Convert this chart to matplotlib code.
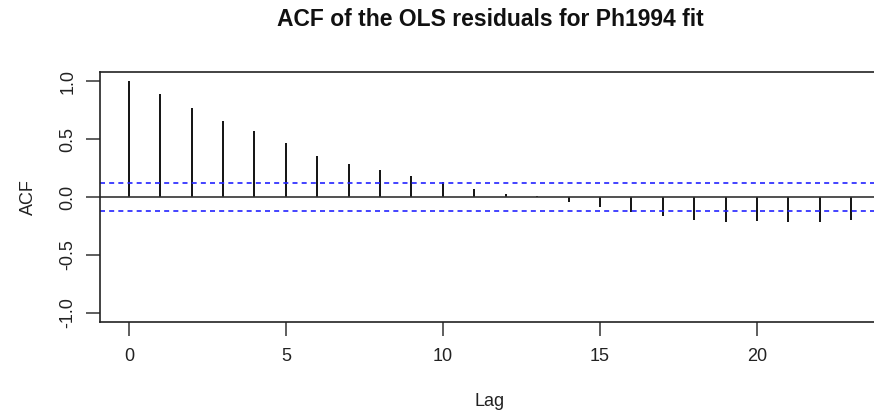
import matplotlib
matplotlib.use("Agg")
import matplotlib.pyplot as plt
import numpy as np

lags = list(range(0, 24))
acf_values = [1.0, 0.894, 0.765, 0.654, 0.568, 0.468, 0.358, 0.281, 0.235, 0.181,
              0.128, 0.065, 0.025, 0.005, -0.04, -0.085, -0.13, -0.168, -0.20,
              -0.217, -0.21, -0.215, -0.215, -0.20]
conf_bound = 0.124
x_ticks = [0, 5, 10, 15, 20]
y_ticks = [-1.0, -0.5, 0.0, 0.5, 1.0]

plt.rcParams['font.family'] = ['Liberation Sans', 'DejaVu Sans']

W, H = 874, 415
fig = plt.figure(figsize=(W / 100, H / 100), dpi=100)
left, right, top, bottom = 100, 880, 72, 322
ax = fig.add_axes([left / W, 1 - bottom / H, (right - left) / W, (bottom - top) / H])

ax.vlines(lags, 0, acf_values, color='black', linewidth=1.3)
ax.axhline(0, color='#333333', linewidth=1.2)
for b in (conf_bound, -conf_bound):
    ax.axhline(b, color='#2222ff', linewidth=1.2, linestyle=(0, (3, 2.5)))

n = len(lags) - 1
ext = 0.04 * n
ax.set_xlim(-ext, n + ext)
ax.set_ylim(-1.08, 1.08)
ax.set_xticks(x_ticks)
ax.set_xticklabels([str(t) for t in x_ticks])
ax.set_yticks(y_ticks)
ax.set_yticklabels(['-1.0', '-0.5', '0.0', '0.5', '1.0'], rotation=90, va='center')

for s in ax.spines.values():
    s.set_linewidth(1.2)
    s.set_color('#222222')
ax.tick_params(axis='both', direction='out', length=10, width=1.1, color='#333333',
               labelsize=13, labelcolor='#222222')
ax.tick_params(axis='x', pad=9)
ax.tick_params(axis='y', pad=7)

ax.set_xlabel('Lag', fontsize=13, color='#222222', labelpad=20)
ax.set_ylabel('ACF', fontsize=13, color='#222222', labelpad=16)
fig.text(490 / W, 1 - 20 / H, 'ACF of the OLS residuals for Ph1994 fit',
         ha='center', va='center', fontsize=16.5, fontweight='bold', color='#111111')

fig.savefig('out.png', dpi=100)
